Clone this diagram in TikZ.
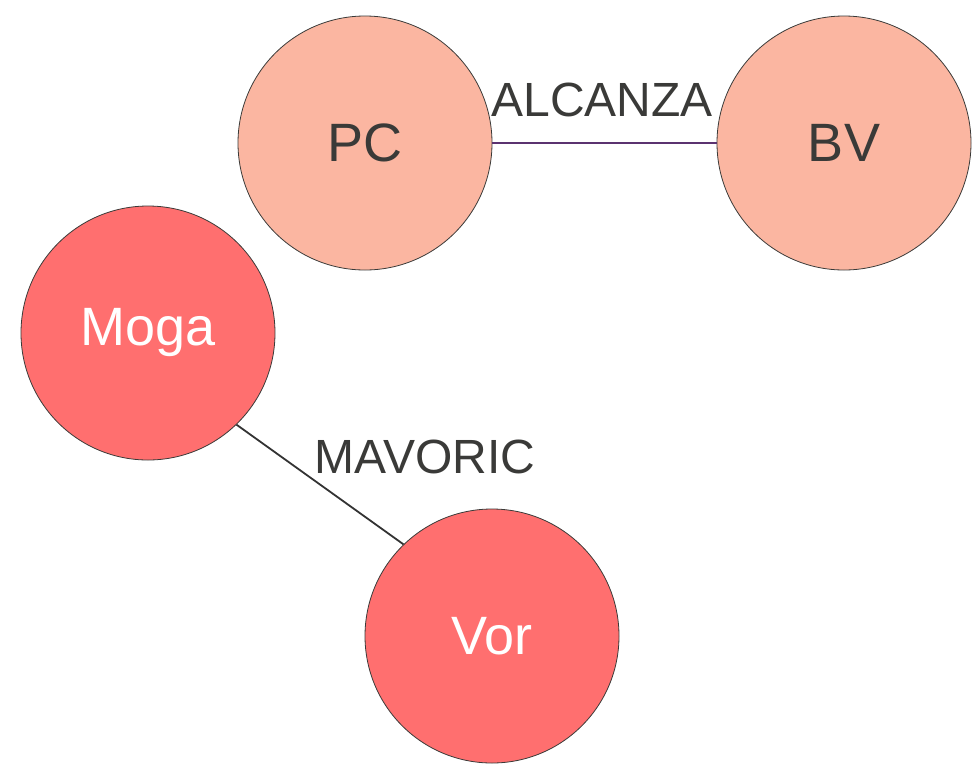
\documentclass[tikz,border=0pt]{standalone}
\usepackage{fontspec}
\setmainfont{Liberation Sans}
\definecolor{lightnode}{HTML}{FBB6A1}
\definecolor{darknode}{HTML}{FF6F6F}
\definecolor{txtgray}{HTML}{3A3A38}
\definecolor{edgepurple}{HTML}{5B3270}
\definecolor{edgedark}{HTML}{333333}
\begin{document}
\begin{tikzpicture}[x=1pt,y=-1pt,
  vnode/.style={circle,draw=txtgray,line width=0.8pt,minimum size=254pt,inner sep=0pt,font=\fontsize{54}{60}\selectfont},
  lnode/.style={vnode,fill=lightnode,text=txtgray},
  dnode/.style={vnode,fill=darknode,text=white},
  elabel/.style={font=\fontsize{48}{54}\selectfont,text=txtgray,inner sep=0pt}]
\useasboundingbox (0,0) rectangle (975,764);
\node[lnode] (pc) at (365,143) {PC};
\node[lnode] (bv) at (844,143) {BV};
\node[dnode] (moga) at (148,333) {Moga};
\node[dnode] (vor) at (492,636) {Vor};
\draw[edgepurple,line width=1.5pt] (pc.0) -- (bv.180);
\draw[edgedark,line width=1.8pt] (moga.-46.5) -- (vor.134.4);
\node[elabel] (l1) at (602,100) {ALCANZA};
\node[elabel] (l2) at (425,457) {MAVORIC};
\end{tikzpicture}
\end{document}
